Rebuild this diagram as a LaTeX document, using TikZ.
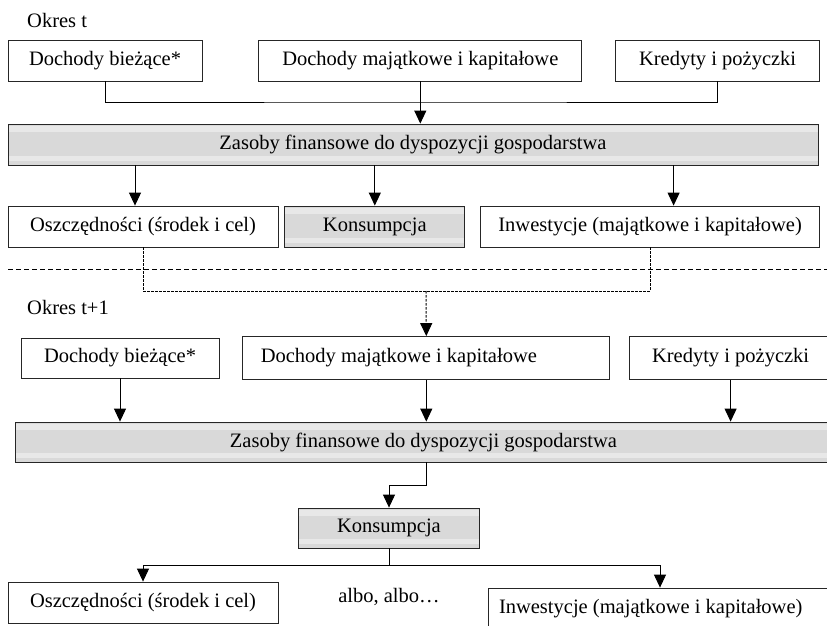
\documentclass[tikz,border=0pt]{standalone}
\usepackage{fontspec}
\setmainfont{Liberation Serif}
\usetikzlibrary{
    arrows.meta,
    positioning
}

\begin{document}
\begin{tikzpicture}[
x=1pt, y=-1pt,
font=\fontsize{20.5}{25}\selectfont,
box/.style={
draw=black!85,
line width=0.8pt,
minimum height=41pt,
inner sep=0pt,
align=center
},
greybox/.style={
box,
fill=black!15,
path picture={
\fill[black!9] ([yshift=-2pt]path picture bounding box.north west)
  rectangle ([yshift=-8pt]path picture bounding box.north east);
\fill[black!9] ([yshift=4pt]path picture bounding box.south west)
  rectangle ([yshift=9pt]path picture bounding box.south east);
}
},
arr/.style={-{Triangle[length=13pt,width=12pt]}, line width=1pt},
link/.style={line width=1pt},
carryline/.style={line width=0.8pt, dash pattern=on 2.5pt off 1.5pt},
sepline/.style={line width=0.8pt, dash pattern=on 5pt off 3pt}
]

\path[use as bounding box, clip] (0,0) rectangle (827,626);

% okres t
\node[anchor=base west, inner sep=0pt] (per1) at (27,28) {Okres t};

\node[box, minimum width=194pt] (inc1) at (105,60.5)
{Dochody bieżące*};

\node[box, minimum width=323pt,
right=56pt of inc1] (prop1)
{Dochody majątkowe i kapitałowe};

\node[box, minimum width=204pt,
right=33pt of prop1] (cred1)
{Kredyty i pożyczki};

\node[greybox, minimum width=810pt] (res1) at (413,144.5)
{Zasoby finansowe do dyspozycji gospodarstwa};

\node[box, minimum width=270pt] (sav1) at (143,226.5)
{Oszczędności (środek i cel)};

\node[greybox, minimum width=180pt,
right=6pt of sav1] (cons1)
{Konsumpcja};

\node[box, minimum width=339pt,
right=15pt of cons1] (inv1)
{Inwestycje (majątkowe i kapitałowe)};

\coordinate (join1) at (419.5,102);

\draw[link] (inc1.south) |- (join1) -| (cred1.south);
\draw[arr] (prop1.south) -- (prop1.south |- res1.north);

\draw[arr] ([xshift=-8pt]sav1.north |- res1.south) -- ([xshift=-8pt]sav1.north);
\draw[arr] (cons1.north |- res1.south) -- (cons1.north);
\draw[arr] ([xshift=23.5pt]inv1.north |- res1.south) -- ([xshift=23.5pt]inv1.north);

% granica okresow
\coordinate (sepL) at (8,269);
\coordinate (sepR) at (827,269);
\draw[sepline] (sepL) -- (sepR);

% okres t+1
\node[anchor=base west, inner sep=0pt] (per2) at (27,314) {Okres t+1};

\node[box, minimum width=198pt, minimum height=40pt] (inc2) at (120,358)
{Dochody bieżące*};

\node[box, minimum width=367pt, minimum height=43pt,
text width=331pt, inner xsep=18pt, align=flush left,
right=23pt of inc2] (prop2)
{Dochody majątkowe i kapitałowe};

\node[box, minimum width=202pt, minimum height=43pt,
right=19pt of prop2] (cred2)
{Kredyty i pożyczki};

\node[greybox, minimum width=817pt, minimum height=40pt] (res2) at (423.5,442)
{Zasoby finansowe do dyspozycji gospodarstwa};

\node[greybox, minimum width=181pt, minimum height=40pt] (cons2) at (389,528)
{Konsumpcja};

\node[box, minimum width=270pt] (sav2) at (143,602.5)
{Oszczędności (środek i cel)};

\node[box, minimum width=344pt,
text width=322pt, inner xsep=11pt, align=flush left] (inv2) at (660,608.5)
{Inwestycje (majątkowe i kapitałowe)};

\node (alt) at (389,597) {albo, albo…};

\coordinate (carry) at (426,291);
\coordinate (split) at (389,565);

\draw[carryline] (sav1.south) |- (carry) -| (inv1.south);
\draw[carryline, arr] (carry) -- (prop2.north);

\draw[arr] (inc2.south) -- (inc2.south |- res2.north);
\draw[arr] (prop2.south) -- (prop2.south |- res2.north);
\draw[arr] (cred2.south) -- (cred2.south |- res2.north);

\draw[arr] (prop2.south |- res2.south) -- ++(0,23) -| (cons2.north);

\draw[link] (cons2.south) -- (split);
\draw[arr] (split) -| (sav2.north);
\draw[arr] (split) -| (inv2.north);

\end{tikzpicture}
\end{document}
